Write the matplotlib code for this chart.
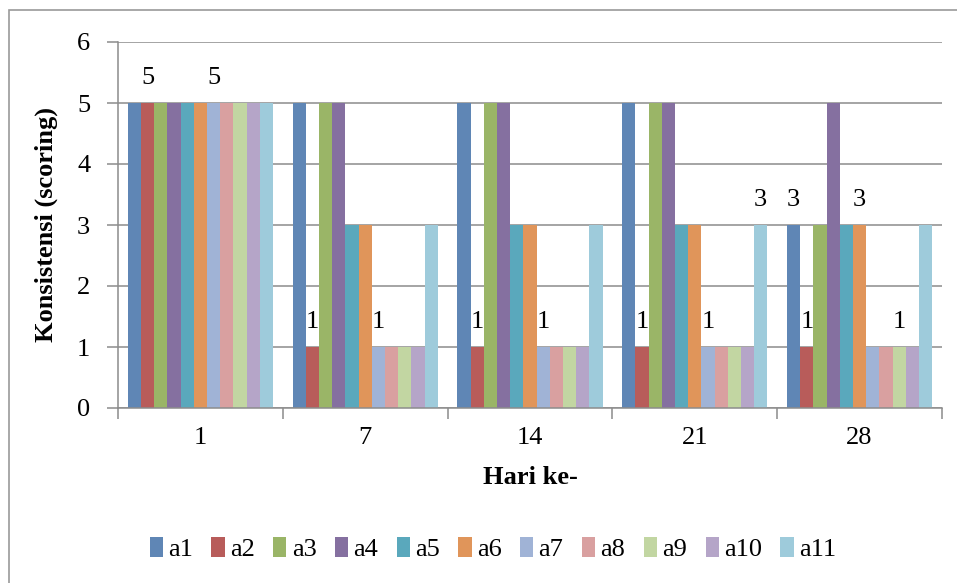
import numpy as np
import matplotlib.pyplot as plt
from matplotlib.patches import Rectangle

plt.rcParams['font.family'] = ['Liberation Serif', 'DejaVu Serif']

days = ['1', '7', '14', '21', '28']
series = ['a1', 'a2', 'a3', 'a4', 'a5', 'a6', 'a7', 'a8', 'a9', 'a10', 'a11']

# scores per sample, one value per day
a1 = [5, 5, 5, 5, 3]
a2 = [5, 1, 1, 1, 1]
a3 = [5, 5, 5, 5, 3]
a4 = [5, 5, 5, 5, 5]
a5 = [5, 3, 3, 3, 3]
a6 = [5, 3, 3, 3, 3]
a7 = [5, 1, 1, 1, 1]
a8 = [5, 1, 1, 1, 1]
a9 = [5, 1, 1, 1, 1]
a10 = [5, 1, 1, 1, 1]
a11 = [5, 3, 3, 3, 3]
values = [a1, a2, a3, a4, a5, a6, a7, a8, a9, a10, a11]

colors = ['#5F86B5', '#B85C5A', '#9AB567', '#8570A0', '#5AA8BC', '#E0955A',
          '#A0B3D6', '#D9A0A0', '#C2D6A2', '#B5A5C8', '#9ECBDB']

# (series index, day index) of bars carrying a value label
labelled = [(1, 0), (6, 0), (1, 1), (6, 1), (1, 2), (6, 2), (1, 3), (6, 3),
            (10, 3), (0, 4), (1, 4), (5, 4), (8, 4)]

FS = 19

fig = plt.figure(figsize=(9.57, 5.83), dpi=100)
fig.patches.append(Rectangle((9 / 957, -0.1), 1.2, 1 - 10 / 583 + 0.1,
                             transform=fig.transFigure, fill=False,
                             edgecolor='#9a9a9a', linewidth=1.2))
ax = fig.add_axes([118 / 957, 1 - 408 / 583, 824 / 957, 366 / 583])

x = np.arange(len(days))
w = 0.88 / len(series)
bars = []
for i, (name, vals) in enumerate(zip(series, values)):
    off = (i - (len(series) - 1) / 2) * w
    b = ax.bar(x + off, vals, w, color=colors[i], label=name, zorder=2,
               linewidth=0)
    bars.append(b)

for si, di in labelled:
    rect = bars[si][di]
    ax.annotate(str(values[si][di]),
                (rect.get_x() + rect.get_width() / 2, rect.get_height()),
                xytext=(0, 18), textcoords='offset points',
                ha='center', va='center', fontsize=FS)

ax.set_xlim(-0.5, len(days) - 0.5)
ax.set_ylim(0, 6)
ax.set_yticks(range(7))
ax.yaxis.grid(True, color='#8c8c8c', linewidth=1.1, zorder=0)
ax.set_axisbelow(True)
ax.set_xticks(x)
ax.set_xticklabels(days)
ax.set_xticks(np.arange(-0.5, len(days)), minor=True)
ax.tick_params(axis='x', which='major', length=0, pad=14, labelsize=FS)
ax.tick_params(axis='x', which='minor', length=8, color='#8c8c8c', width=1.1)
ax.tick_params(axis='y', length=8, color='#8c8c8c', width=1.1, pad=12,
               labelsize=FS)

for s in ['top', 'right']:
    ax.spines[s].set_visible(False)
for s in ['left', 'bottom']:
    ax.spines[s].set_color('#8c8c8c')
    ax.spines[s].set_linewidth(1.1)

ax.set_ylabel('Konsistensi (scoring)', fontsize=FS, fontweight='bold',
              labelpad=14)
ax.set_xlabel('Hari ke-', fontsize=FS, fontweight='bold', labelpad=12)

fig.legend(loc='center', bbox_to_anchor=(0.515, 0.058), ncol=len(series),
           frameon=False, fontsize=FS, handlelength=0.5, handleheight=0.75,
           handletextpad=0.2, columnspacing=0.7)

fig.savefig('out.png', dpi=100)
